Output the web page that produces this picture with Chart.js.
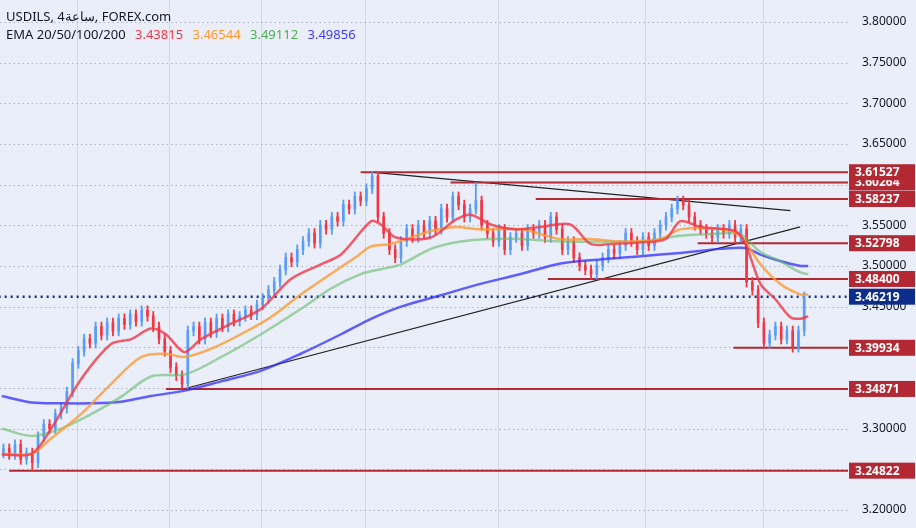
<!DOCTYPE html>
<html><head><meta charset="utf-8">
<script src="https://cdn.jsdelivr.net/npm/chart.js@4"></script>
<style>html,body{margin:0;padding:0;background:#eaeef8;}#w{position:relative;width:916px;height:528px;}
#t{position:absolute;left:6px;top:7px;font:13px "Noto Sans",sans-serif;color:#131722;line-height:18px;z-index:2}#t span{margin-left:6px}</style>
</head><body><div id="w"><canvas id="c" width="916" height="528"></canvas>
<div id="t">USDILS, 4ساعة, FOREX.com<br>EMA 20/50/100/200 <span style="color:#f23645">3.43815</span> <span style="color:#ff9830">3.46544</span> <span style="color:#4caf50">3.49112</span> <span style="color:#3d3dff">3.49856</span></div></div>
<script>
const closes=[3.275,3.268,3.280,3.262,3.270,3.258, 3.290,3.305,3.300,3.318,3.325, 3.345,3.380,3.395,3.410,
3.405,3.425,3.415,3.430,3.420,3.435,3.428,3.440,3.432,3.445,3.438, 3.425,3.410,3.395,3.375,3.365,3.355, 3.420,
3.425,3.410,3.430,3.418,3.435,3.425,3.440,3.432,3.438,3.445,3.440,3.452,3.460,
3.470,3.480,3.495,3.510,3.505,3.520,3.530, 3.540,3.528,3.550,3.545,3.560,3.555,3.575, 3.570,3.585,3.580,3.595,3.610,
3.560,3.540,3.520,3.510,3.530, 3.545,3.535,3.550,3.540,3.555,3.545,3.570,3.560,3.585,3.575,3.560,3.570,3.580,
3.550,3.540,3.530,3.545,3.520,3.535,3.540,3.525,3.545,3.540,3.550,3.535,3.560,3.545,3.520,3.530,3.510,3.500,3.495,3.490,3.500,
3.510,3.520,3.515,3.525,3.540,3.530,3.520,3.535,3.525,3.540,3.550,3.560,3.570,3.580,3.575,
3.560,3.550,3.545,3.540,3.535,3.545,3.540,3.550,3.535,3.545, 3.480,
3.470,3.430,3.405,3.415,3.425,3.410,3.420,3.400,3.420,3.462];
const firstOpen=3.270;
const extremeIdx=[5,31,64,82,102,117,137,129];
const extremeVal=[3.2482,3.3487,3.6153,3.6026,3.4840,3.5824,3.3993,3.5400];
const emaX=[-0.3,4.9,8.3,13.5,18.7,22.2,25.6,28.2,31.4,34.3,39.5,44.7,49.9,55.1,58.6,63.8,65.5,68.1,74.2,78.5,81.1,84.6,88.9,93.2,98.4,101.9,105.4,110.6,114.9,117.5,121,127,128.8,131.4,134,136.6,138.3,139.7];
const ema20=[3.268,3.269,3.300,3.361,3.404,3.410,3.423,3.416,3.394,3.410,3.429,3.447,3.484,3.502,3.514,3.555,3.551,3.535,3.535,3.557,3.563,3.551,3.545,3.548,3.551,3.527,3.527,3.529,3.533,3.555,3.548,3.543,3.527,3.478,3.459,3.437,3.435,3.438];
const ema50X=[-0.3,4.9,8.3,13.5,18.7,23.9,28.2,31.4,36,41.2,46.4,51.6,56.8,61.2,63.8,67.2,74.2,78.5,82.8,89.8,96.7,101.9,107.1,114,117.5,124.5,127.9,131.4,134.8,138.3,139.7];
const ema50=[3.269,3.269,3.288,3.318,3.355,3.388,3.392,3.388,3.398,3.416,3.437,3.465,3.490,3.511,3.524,3.527,3.543,3.548,3.545,3.545,3.533,3.533,3.530,3.533,3.545,3.545,3.537,3.502,3.478,3.465,3.465];
const ema100X=[-0.3,4.9,10,15.3,20.4,25.6,31.7,37.8,44.7,51.6,56.8,62,65.5,69,74.2,79.4,84.6,89.8,96.7,103.6,110.6,117.5,124.5,127.9,131.4,134.8,138.3,139.7];
const ema100=[3.300,3.291,3.300,3.318,3.339,3.364,3.367,3.388,3.416,3.447,3.472,3.490,3.496,3.502,3.521,3.530,3.533,3.533,3.530,3.530,3.530,3.537,3.540,3.539,3.517,3.506,3.492,3.490];
const ema200X=[-0.3,4.9,10,15.3,20.4,25.6,31.7,37.8,44.7,51.6,58.6,63.8,69,75.9,82.8,89.8,96.7,103.6,110.6,117.5,124.5,128.8,131.4,134.8,138.3,139.7];
const ema200=[3.340,3.332,3.331,3.331,3.333,3.340,3.347,3.358,3.371,3.392,3.416,3.435,3.450,3.464,3.478,3.490,3.503,3.508,3.512,3.516,3.521,3.522,3.514,3.506,3.500,3.500];
const levels=[3.61527,3.60264,3.58237,3.52798,3.48400,3.39934,3.34871,3.24822];
const levelStart=[62,77.6,92.4,120.5,94.5,126.7,28.2,1];
const trend1=[[63.8,3.6153],[136.6,3.568]];
const trend2=[[31.4,3.349],[138.3,3.548]];
const lastPrice=3.46219;
const vGrid=[12.8,28.8,44.7,62.7,85.8,111.4,131.9];
const yTicks=[3.20,3.25,3.30,3.35,3.40,3.45,3.50,3.55,3.60,3.65,3.70,3.75,3.80];

const wick=[],body=[],cols=[];
let prev=firstOpen;
closes.forEach((c,i)=>{let hi=Math.max(prev,c)+0.006,lo=Math.min(prev,c)-0.006;
 const k=extremeIdx.indexOf(i); if(k>=0){const v=extremeVal[k]; if(v>hi)hi=v; if(v<lo)lo=v;}
 wick.push({x:i,y:[lo,hi]}); body.push({x:i,y:[Math.min(prev,c),Math.max(prev,c)+0.0005]});
 cols.push(c>=prev?'#5b9cf6':'#f23645'); prev=c;});
const pts=(xs,ys)=>xs.map((x,i)=>({x,y:ys[i]}));
const lineDs=(d,col,w,o)=>Object.assign({type:'line',data:d,borderColor:col,borderWidth:w,pointRadius:0,tension:0.3,fill:false},o||{});
const ds=[
 lineDs(pts(emaX,ema20),'rgba(242,54,69,0.8)',2.5),
 lineDs(pts(ema50X,ema50),'rgba(255,152,48,0.8)',2.5),
 lineDs(pts(ema100X,ema100),'rgba(102,187,106,0.6)',2.5),
 lineDs(pts(ema200X,ema200),'rgba(45,45,255,0.75)',2.5),
 {type:'bar',data:wick,backgroundColor:cols,barThickness:1.2,grouped:false},
 {type:'bar',data:body,backgroundColor:cols,barThickness:2,grouped:false},
];
levels.forEach((v,i)=>ds.push(lineDs([{x:levelStart[i],y:v},{x:150,y:v}],'#b22833',2,{tension:0})));
ds.push(lineDs(trend1.map(p=>({x:p[0],y:p[1]})),'#222',1.2,{tension:0}));
ds.push(lineDs(trend2.map(p=>({x:p[0],y:p[1]})),'#222',1.2,{tension:0}));
ds.push(lineDs([{x:-5,y:lastPrice},{x:150,y:lastPrice}],'#0d2d8a',2.5,{tension:0,borderDash:[2,4]}));

const plug={id:'p',beforeDatasetsDraw(ch){const {ctx,chartArea:a,scales:{x,y}}=ch;ctx.save();
 ctx.strokeStyle='rgba(180,185,200,0.45)';ctx.lineWidth=1;
 vGrid.forEach(g=>{const px=Math.round(x.getPixelForValue(g))+0.5;ctx.beginPath();ctx.moveTo(px,a.top);ctx.lineTo(px,a.bottom);ctx.stroke();});
 ctx.strokeStyle='rgba(150,155,170,0.7)';ctx.setLineDash([1.5,3]);
 yTicks.forEach(t=>{const py=Math.round(y.getPixelForValue(t))+0.5;ctx.beginPath();ctx.moveTo(a.left,py);ctx.lineTo(a.right,py);ctx.stroke();});
 ctx.setLineDash([]);ctx.fillStyle='#131722';ctx.font='12px "Noto Sans",sans-serif';ctx.textBaseline='middle';
 yTicks.forEach(t=>ctx.fillText(t.toFixed(5),a.right+14,y.getPixelForValue(t)));
 ctx.restore();},
 afterDraw(ch){const {ctx,chartArea:a,scales:{y}}=ch;ctx.save();ctx.font='bold 12px "Noto Sans",sans-serif';ctx.textBaseline='middle';
 const order=[1,0,2,3,4,5,6,7];
 const box=(v,col)=>{const py=y.getPixelForValue(v);ctx.fillStyle=col;ctx.fillRect(a.right+1,py-8,66,16);ctx.fillStyle='#fff';ctx.fillText(v.toFixed(5),a.right+7,py+0.5);};
 order.forEach(i=>box(levels[i],'#b22833'));box(lastPrice,'#0d2d8a');ctx.restore();}};
new Chart(document.getElementById('c'),{data:{datasets:ds},plugins:[plug],
 options:{responsive:false,animation:false,events:[],layout:{padding:{left:0,top:0,bottom:0,right:68}},
 plugins:{legend:{display:false},tooltip:{enabled:false}},
 scales:{x:{type:'linear',offset:false,min:-0.6,max:146.6,display:false},
 y:{min:3.1777,max:3.8271,display:false}}}});
</script></body></html>
